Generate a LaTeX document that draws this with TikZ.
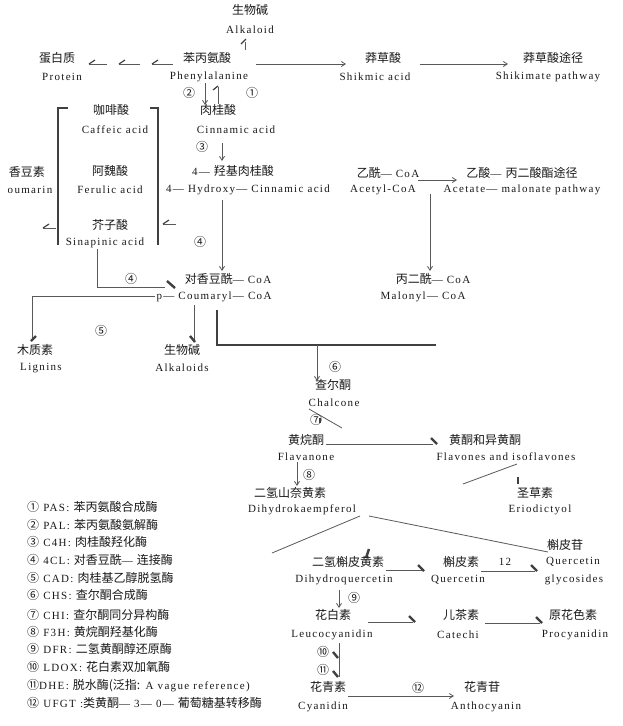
\documentclass[tikz,border=0pt]{standalone}
\usepackage{fontspec}
\setmainfont{Liberation Serif}
\newfontfamily\zhf{Noto Sans CJK SC}
\newfontfamily\enf{Liberation Serif}[LetterSpace=12]
\usetikzlibrary{arrows.meta}
\newcommand\zh[1]{{\zhf\fontsize{12}{14}\selectfont #1}}
\begin{document}
\begin{tikzpicture}[x=1pt,y=-1pt,
  zh/.style={font=\zhf\fontsize{12}{14}\selectfont, inner sep=0pt, text=black!90},
  en/.style={font=\enf\fontsize{11}{13}\selectfont, inner sep=0pt, text=black!90},
  lg/.style={font=\enf\fontsize{11}{13}\selectfont, inner sep=0pt, anchor=west, text=black!90},
  ln/.style={draw=black!65, line width=0.8pt},
  arr/.style={ln, -{Straight Barb[length=4pt,width=5pt]}},
  tk/.style={draw=black!75, line width=2.4pt},
  tn/.style={draw=black!75, line width=1.2pt},
  br/.style={draw=black!75, line width=2.6pt}]
\useasboundingbox (0,0) rectangle (623,726);
\fill[white] (0,0) rectangle (623,726);

% ---- top row
\node[zh] (alk) at (250,10) {生物碱};
\node[en] (alke) at (250,30) {Alkaloid};
\node[zh] (pro) at (57,58) {蛋白质};
\node[en] (proe) at (62,77) {Protein};
\node[zh] (phe) at (207,58) {苯丙氨酸};
\node[en] (phee) at (209,77) {Phenylalanine};
\node[zh] (shk) at (383,58) {莽草酸};
\node[en] (shke) at (375,77) {Shikmic acid};
\node[zh] (shp) at (553,58) {莽草酸途径};
\node[en] (shpe) at (548,77) {Shikimate pathway};

\draw[ln] (245,50) -- (245,42);
\draw[tn] (241,44) -- (246,39);
\foreach \a/\b in {89/107,119/140,152/173}{
  \draw[ln] (\a,64) -- (\b,64);
  \draw[tn] (\a,64) -- (\a+6,60);
}
\coordinate (p1) at (256,64);
\coordinate (s1) at (346,64);
\draw[arr] (p1) -- (s1);
\coordinate (s2) at (420,64);
\coordinate (s3) at (508,64);
\draw[arr] (s2) -- (s3);

% ---- cinnamic
\node[zh] (n2) at (189,93) {②};
\node[zh] (n1) at (252,93) {①};
\coordinate (a2s) at (205,83);
\coordinate (a2e) at (205,105);
\draw[arr] (a2s) -- (a2e);
\draw[ln] (218,104) -- (218,87);
\draw[tn] (213,90) -- (218,86);
\node[zh] (cin) at (218,110) {肉桂酸};
\node[en] (cine) at (236,130) {Cinnamic acid};
\node[zh] (n3) at (202,147) {③};
\coordinate (a3s) at (222,143);
\coordinate (a3e) at (222,161);
\draw[arr] (a3s) -- (a3e);
\node[zh] (hcin) at (233,171) {\fontsize{11}{13}\selectfont\enf 4— \zhf\fontsize{12}{14}\selectfont 羟基肉桂酸};
\node[en] (hcine) at (248,190) {4— Hydroxy— Cinnamic acid};
\coordinate (a4s) at (222,200);
\coordinate (a4e) at (222,271);
\draw[arr] (a4s) -- (a4e);
\node[zh] (n4) at (200,242) {④};
\node[en] (cou) at (228,279) {\zh{对香豆酰}— CoA};
\node[en] (coue) at (214,297) {p— Coumaryl— CoA};

% ---- bracket group
\draw[br] (68,108) -- (58,108) -- (58,245);
\draw[br] (150,108) -- (158,108) -- (158,245);
\node[zh] (caf) at (111,110) {咖啡酸};
\node[en] (cafe) at (115,130) {Caffeic acid};
\node[zh] (fer) at (110,171) {阿魏酸};
\node[en] (fere) at (110,190) {Ferulic acid};
\node[zh] (sin) at (110,225) {芥子酸};
\node[en] (sine) at (105,243) {Sinapinic acid};
\node[zh] (cum) at (27,172) {香豆素};
\node[en] (cume) at (30,190) {oumarin};
\draw[ln] (56,228) -- (43,228);
\draw[tn] (43,228) -- (49,224);
\draw[ln] (176,224) -- (163,224);
\draw[tn] (163,224) -- (169,220);
\draw[ln] (97,249) -- (97,287) -- (165,287);
\draw[tk] (167,281) -- (175,288);
\node[zh] (n4b) at (131,279) {④};

% ---- acetyl
\node[en] (ace) at (388,173) {\zh{乙酰}— CoA};
\node[en] (acee) at (383,190) {Acetyl-CoA};
\node[en] (acp) at (522,173) {\zh{乙酸}— \zh{丙二酸酯途径}};
\node[en] (acpe) at (522,190) {Acetate— malonate pathway};
\coordinate (ac1) at (418,180);
\coordinate (ac2) at (457,180);
\draw[arr] (ac1) -- (ac2);
\coordinate (ac3) at (430,194);
\coordinate (ac4) at (430,271);
\draw[arr] (ac3) -- (ac4);
\node[en] (mal) at (433,279) {\zh{丙二酰}— CoA};
\node[en] (male) at (423,297) {Malonyl— CoA};

% ---- lignins / alkaloids
\draw[ln] (155,296) -- (32,296) -- (32,338);
\draw[tk] (31,341) -- (36,336);
\node[zh] (n5) at (101,331) {⑤};
\node[zh] (lig) at (35,350) {木质素};
\node[en] (lige) at (41,368) {Lignins};
\draw[ln] (194,305) -- (194,340);
\draw[tk] (190,336) -- (195,342);
\node[zh] (alk2) at (182,350) {生物碱};
\node[en] (alk2e) at (182,368) {Alkaloids};
\draw[br] (217,310) -- (217,345) -- (436,345);
\coordinate (c6s) at (317,345);
\coordinate (c6e) at (317,381);
\draw[arr] (c6s) -- (c6e);
\node[zh] (n6) at (335,367) {⑥};
\node[zh] (chal) at (333,385) {查尔酮};
\node[en] (chale) at (334,403) {Chalcone};

% ---- flavanone
\draw[ln] (309,409) -- (342,428);
\node[zh] (n7) at (316,420) {⑦};
\draw[tk] (320,418) -- (320,423);
\node[zh] (flv) at (306,440) {黄烷酮};
\node[en] (flve) at (306,457) {Flavanone};
\draw[ln] (326,444) -- (433,444);
\draw[tk] (431,438) -- (437,444);
\node[zh] (fls) at (485,440) {黄酮和异黄酮};
\node[en] (flse) at (506,457) {Flavones and isoflavones};
\draw[ln] (517,464) -- (463,484);
\draw[tk] (518,477) -- (518,484);
\node[zh] (eri) at (535,493) {圣草素};
\node[en] (erie) at (540,510) {Eriodictyol};
\coordinate (f8s) at (297,462);
\coordinate (f8e) at (297,486);
\draw[arr] (f8s) -- (f8e);
\node[zh] (n8) at (309,475) {⑧};
\node[zh] (dhk) at (290,493) {二氢山奈黄素};
\node[en] (dhke) at (302,510) {Dihydrokaempferol};
\draw[ln] (360,516) -- (272,553);
\draw[ln] (369,516) -- (548,552);

% ---- quercetin row
\node[zh] (qg) at (565,545) {槲皮苷};
\node[en] (qge) at (573,562) {Quercetin};
\node[en] (qge2) at (574,580) {glycosides};
\draw[tk] (366,558) -- (369,549);
\node[zh] (dhq) at (348,562) {二氢槲皮黄素};
\node[en] (dhqe) at (344,580) {Dihydroquercetin};
\draw[ln] (386,570) -- (423,570);
\draw[tk] (418,565) -- (424,571);
\node[zh] (que) at (461,562) {槲皮素};
\node[en] (quee) at (458,580) {Quercetin};
\node[en] (n12a) at (505,562) {12};
\draw[ln] (481,571) -- (535,571);
\draw[tk] (531,565) -- (537,571);
\coordinate (d9s) at (339,590);
\coordinate (d9e) at (339,608);
\draw[arr] (d9s) -- (d9e);
\node[zh] (n9) at (354,598) {⑨};

% ---- leucocyanidin row
\node[zh] (leu) at (333,615) {花白素};
\node[en] (leue) at (332,635) {Leucocyanidin};
\draw[ln] (368,622) -- (413,622);
\draw[tk] (409,616) -- (415,622);
\node[zh] (cat) at (461,615) {儿茶素};
\node[en] (cate) at (458,635) {Catechi};
\draw[ln] (485,623) -- (540,623);
\draw[tk] (536,617) -- (542,623);
\node[zh] (prc) at (573,615) {原花色素};
\node[en] (prce) at (575,635) {Procyanidin};
\draw[ln] (339,643) -- (339,677);
\draw[tk] (333,652) -- (338,658);
\draw[tk] (333,671) -- (338,677);
\node[zh] (n10) at (323,652) {⑩};
\node[zh] (n11) at (323,670) {⑪};

% ---- cyanidin row
\node[zh] (cya) at (328,687) {花青素};
\node[en] (cyae) at (323,707) {Cyanidin};
\coordinate (c12s) at (348,696);
\coordinate (c12e) at (454,696);
\draw[arr] (c12s) -- (c12e);
\node[zh] (n12) at (418,688) {⑫};
\node[zh] (ant) at (482,687) {花青苷};
\node[en] (ante) at (486,707) {Anthocyanin};

% ---- legend
\node[lg] (l1) at (27,507) {\zh{①} PAS: \zh{苯丙氨酸合成酶}};
\node[lg] (l2) at (27,525) {\zh{②} PAL: \zh{苯丙氨酸氨解酶}};
\node[lg] (l3) at (27,542) {\zh{③} C4H: \zh{肉桂酸羟化酶}};
\node[lg] (l4) at (27,560) {\zh{④} 4CL: \zh{对香豆酰}— \zh{连接酶}};
\node[lg] (l5) at (27,578) {\zh{⑤} CAD: \zh{肉桂基乙醇脱氢酶}};
\node[lg] (l6) at (27,595) {\zh{⑥} CHS: \zh{查尔酮合成酶}};
\node[lg] (l7) at (27,615) {\zh{⑦} CHI: \zh{查尔酮同分异构酶}};
\node[lg] (l8) at (27,632) {\zh{⑧} F3H: \zh{黄烷酮羟基化酶}};
\node[lg] (l9) at (27,649) {\zh{⑨} DFR: \zh{二氢黄酮醇还原酶}};
\node[lg] (l10) at (27,667) {\zh{⑩} LDOX: \zh{花白素双加氧酶}};
\node[lg] (l11) at (27,686) {\zh{⑪}DHE: \zh{脱水酶(泛指:} A vague reference)};
\node[lg] (l12) at (27,703) {\zh{⑫} UFGT :\zh{类黄酮}— 3— 0— \zh{葡萄糖基转移酶}};
\end{tikzpicture}
\end{document}
